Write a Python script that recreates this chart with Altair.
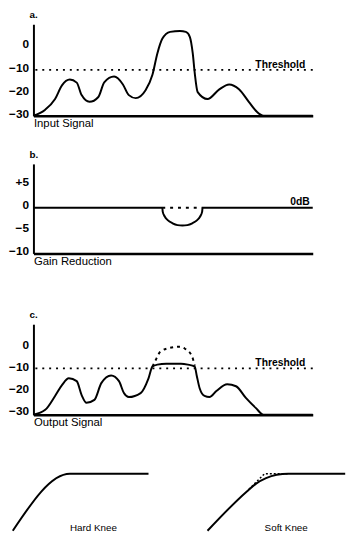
import altair as alt
import pandas as pd

FONT = "Liberation Sans"

# ---------- panel a: input signal (time offset, level in dB) ----------
in_t = [0, 12, 22, 29, 37, 44, 49, 57, 66, 72, 82, 91, 97, 104, 114, 121, 126,
        131, 139, 149, 155, 159, 162, 164, 167, 177, 189, 199, 209, 219, 227, 234, 284]
in_db = [-31, -28.4, -23.8, -17.9, -15.4, -16.7, -22.1, -25.0, -22.9, -16.6, -14.1,
         -17.5, -22.1, -23.4, -20.0, -13.3, -4.1, 2.2, 5.2, 5.6, 5.2, 3.1, -4.1,
         -12.5, -20.8, -23.8, -19.6, -17.5, -19.6, -25.0, -29.2, -31, -31]
a_ticks = [0, -10, -20, -30]
a_threshold = -11.2

# ---------- panel b: gain reduction ----------
gr_t = [0, 131, 131.5, 133.5, 136.5, 141.5, 146.5, 151.5, 156.5, 161.5, 166.5,
        169.5, 171.5, 172, 284]
gr_db = [0, 0, -0.9, -1.9, -2.7, -3.4, -3.8, -3.9, -3.8, -3.4, -2.7, -1.9, -0.9, 0, 0]
gr_gap_t = [131, 172]
gr_gap_db = [0, 0]
b_ticks = [5, 0, -5, -10]

# ---------- panel c: output signal ----------
out_t = [0, 12, 22, 29, 36, 44, 49, 54, 62, 69, 79, 87, 92, 97, 109, 117, 121, 126,
         135, 150, 157, 164, 166, 169, 174, 179, 186, 197, 206, 216, 226, 234, 284]
out_db = [-32, -29.8, -23.5, -18.6, -15.5, -16.8, -23.1, -26.6, -25.3, -17.7, -14.2,
          -16.8, -22.2, -24.0, -22.2, -15.5, -10.2, -9.3, -8.9, -8.9, -9.3, -10.2,
          -14.2, -20.0, -23.5, -24.0, -21.3, -18.2, -19.1, -24.4, -28.9, -32, -32]
orig_t = [121, 124, 129, 139, 149, 154, 161, 164]
orig_db = [-10.2, -7.5, -3.5, -1.7, -1.2, -2.1, -5.3, -9.8]
c_ticks = [0, -10, -20, -30]
c_threshold = -11.0

# ---------- panel d: knee transfer curves (input, output) ----------
hard_in = [-21, 37, 117]
hard_out = [0, 58, 58]
soft_in = [177, 217, 226.4, 236.5, 247.4, 259, 317]
soft_out = [0, 40, 47.9, 53.5, 56.9, 58, 58]
softdot_in = [219, 235, 259]
softdot_out = [42, 58, 58]

W = 284


def x_axis(title):
    return alt.Axis(
        domain=True, domainColor="black", domainWidth=2.5, ticks=False,
        labels=False, grid=False, title=title, titleAnchor="start",
        titleFont=FONT, titleFontSize=11.5, titleFontWeight="normal",
        titleColor="black", titlePadding=2, minExtent=0,
    )


def y_axis(ticks, label_expr=None, offset=0):
    kw = dict(
        values=ticks, domain=True, domainColor="black", domainWidth=2,
        ticks=False, grid=False, title=None, labelFont=FONT, labelFontSize=12,
        labelFontWeight="bold", labelColor="black", labelPadding=5,
        labelOffset=offset, labelOverlap=False, labelFlush=False,
        minExtent=0,
    )
    if label_expr:
        kw["labelExpr"] = label_expr
    return alt.Axis(**kw)


def panel_title(t):
    return alt.TitleParams(t, anchor="start", frame="group", font=FONT, fontSize=10,
                           fontWeight="bold", color="black", offset=4, dx=-4)


def enc(xs, xa, ys, ya, xf="t", yf="db"):
    return dict(x=alt.X(f"{xf}:Q", scale=xs, axis=xa), y=alt.Y(f"{yf}:Q", scale=ys, axis=ya))


# panel a
xs_a = alt.Scale(domain=[0, W], nice=False, zero=False)
ys_a = alt.Scale(domain=[-31, 8.5], nice=False, zero=False)
xa_a = x_axis("Input Signal")
ya_a = y_axis(a_ticks)
a_line = alt.Chart(pd.DataFrame({"t": in_t, "db": in_db})).mark_line(
    color="black", strokeWidth=2, interpolate="monotone").encode(**enc(xs_a, xa_a, ys_a, ya_a))
a_thr = alt.Chart(pd.DataFrame({"db": [a_threshold]})).mark_rule(
    color="black", strokeWidth=2, strokeDash=[2, 5]).encode(y=alt.Y("db:Q", scale=ys_a, axis=ya_a))
a_txt = alt.Chart(pd.DataFrame({"t": [251], "db": [-8.9], "s": ["Threshold"]})).mark_text(
    font=FONT, fontSize=10.5, fontWeight="bold", color="black", align="center", baseline="middle"
).encode(text="s:N", **enc(xs_a, xa_a, ys_a, ya_a))
panel_a = alt.layer(a_line, a_thr, a_txt).properties(width=W, height=93, title=panel_title("a."))

# panel b
xs_b = alt.Scale(domain=[0, W], nice=False, zero=False)
ys_b = alt.Scale(domain=[-10, 9.6], nice=False, zero=False)
xa_b = x_axis("Gain Reduction")
ya_b = y_axis(b_ticks, "datum.value > 0 ? '+' + datum.label : datum.label", -3)
b_line = alt.Chart(pd.DataFrame({"t": gr_t, "db": gr_db})).mark_line(
    color="black", strokeWidth=2, interpolate="monotone").encode(**enc(xs_b, xa_b, ys_b, ya_b))
b_gap = alt.Chart(pd.DataFrame({"t": gr_gap_t, "db": gr_gap_db})).mark_line(
    color="black", strokeWidth=2, strokeDash=[3, 5]).encode(**enc(xs_b, xa_b, ys_b, ya_b))
b_txt = alt.Chart(pd.DataFrame({"t": [271], "db": [1.3], "s": ["0dB"]})).mark_text(
    font=FONT, fontSize=10.5, fontWeight="bold", color="black", align="center", baseline="middle"
).encode(text="s:N", **enc(xs_b, xa_b, ys_b, ya_b))
panel_b = alt.layer(b_line, b_gap, b_txt).properties(width=W, height=91, title=panel_title("b."))

# panel c
xs_c = alt.Scale(domain=[0, W], nice=False, zero=False)
ys_c = alt.Scale(domain=[-32, 9], nice=False, zero=False)
xa_c = x_axis("Output Signal")
ya_c = y_axis(c_ticks)
c_line = alt.Chart(pd.DataFrame({"t": out_t, "db": out_db})).mark_line(
    color="black", strokeWidth=2, interpolate="monotone").encode(**enc(xs_c, xa_c, ys_c, ya_c))
c_orig = alt.Chart(pd.DataFrame({"t": orig_t, "db": orig_db})).mark_line(
    color="black", strokeWidth=2, strokeDash=[3, 4], interpolate="monotone").encode(**enc(xs_c, xa_c, ys_c, ya_c))
c_thr = alt.Chart(pd.DataFrame({"db": [c_threshold]})).mark_rule(
    color="black", strokeWidth=2, strokeDash=[2, 5]).encode(y=alt.Y("db:Q", scale=ys_c, axis=ya_c))
c_txt = alt.Chart(pd.DataFrame({"t": [251], "db": [-8.6], "s": ["Threshold"]})).mark_text(
    font=FONT, fontSize=10.5, fontWeight="bold", color="black", align="center", baseline="middle"
).encode(text="s:N", **enc(xs_c, xa_c, ys_c, ya_c))
panel_c = alt.layer(c_line, c_orig, c_thr, c_txt).properties(width=W, height=92, title=panel_title("c."))

# panel d
xs_d = alt.Scale(domain=[0, W], nice=False, zero=False)
ys_d = alt.Scale(domain=[0, 58], nice=False, zero=False)
df_knee = pd.DataFrame({
    "inp": hard_in + soft_in,
    "out": hard_out + soft_out,
    "k": ["hard"] * len(hard_in) + ["soft"] * len(soft_in),
})
d_lines = alt.Chart(df_knee).mark_line(color="black", strokeWidth=2, interpolate="monotone").encode(
    detail="k:N", **enc(xs_d, None, ys_d, None, "inp", "out"))
d_dot = alt.Chart(pd.DataFrame({"inp": softdot_in, "out": softdot_out})).mark_line(
    color="black", strokeWidth=1.5, strokeDash=[2, 2]).encode(**enc(xs_d, None, ys_d, None, "inp", "out"))
d_txt = alt.Chart(pd.DataFrame({"inp": [61, 257], "out": [2.3, 2.3], "s": ["Hard Knee", "Soft Knee"]})).mark_text(
    font=FONT, fontSize=10, color="black", align="center", baseline="middle"
).encode(text="s:N", **enc(xs_d, None, ys_d, None, "inp", "out"))
panel_d = alt.layer(d_lines, d_dot, d_txt).properties(width=W, height=58)


def spacer(h):
    return alt.Chart(pd.DataFrame({"v": [0]})).mark_point(opacity=0, size=0).encode(
        x=alt.X("v:Q", axis=None), y=alt.Y("v:Q", axis=None)
    ).properties(width=W, height=h)


chart = alt.vconcat(
    panel_a, spacer(49), panel_b, spacer(72), panel_c, spacer(60), panel_d,
    spacing=0, bounds="flush",
).properties(
    padding={"left": 8, "top": 6, "right": 8, "bottom": 17},
    background="white",
).configure_view(stroke=None).configure_axis(grid=False, ticks=False)

chart.save("out.html", embed_options={"renderer": "svg", "actions": False})
